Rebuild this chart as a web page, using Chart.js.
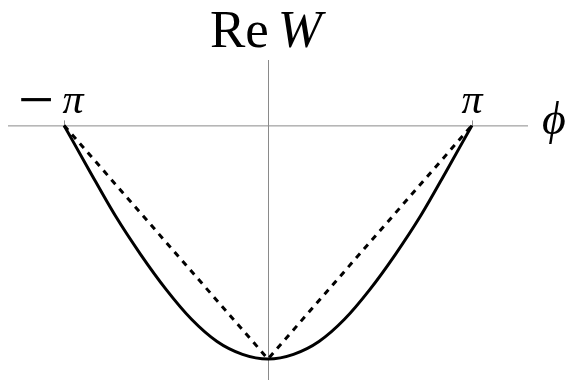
<!DOCTYPE html>
<html>
<head>
<meta charset="utf-8">
<script src="https://cdn.jsdelivr.net/npm/chart.js@4.4.1/dist/chart.umd.min.js"></script>
<style>
  body { margin: 0; background: #fff; }
  #wrap { width: 576px; height: 380px; }
</style>
</head>
<body>
<div id="wrap"><canvas id="reW" width="576" height="380"></canvas></div>
<script>
// phi in units of pi
let phi_ar = [-1, -0.875, -0.75, -0.625, -0.5, -0.375, -0.25, -0.125, 0,
              0.125, 0.25, 0.375, 0.5, 0.625, 0.75, 0.875, 1]
let rew_ar = [0, -0.195, -0.385, -0.552, -0.702, -0.83, -0.925, -0.98, -1,
              -0.98, -0.925, -0.83, -0.702, -0.552, -0.385, -0.195, 0]
// the dashed V
let vphi_ar = [-1, 0, 1]
let vrew_ar = [0, -1, 0]
// tick labels on the phi axis
let tick_ar = [-1, 1]
let tick_lbl = ['\u2212\u03c0', '\u03c0']

const toPts = (xs, ys) => xs.map((x, i) => ({x: x, y: ys[i]}))

//axes + labels drawn from the scales
const axesPlugin = {
    id: 'axesPlugin',
    beforeDatasetsDraw(chart) {
        const {ctx, chartArea, scales} = chart
        const x0 = scales.x.getPixelForValue(0)
        const y0 = scales.y.getPixelForValue(0)
        ctx.save()
        ctx.strokeStyle = '#8a8a8a'
        ctx.lineWidth = 1
        ctx.beginPath()
        ctx.moveTo(chartArea.left, y0 + 0.5)
        ctx.lineTo(chartArea.right, y0 + 0.5)
        ctx.moveTo(Math.round(x0) + 0.5, chartArea.top)
        ctx.lineTo(Math.round(x0) + 0.5, chartArea.bottom)
        tick_ar.forEach(t => {
            const px = Math.round(scales.x.getPixelForValue(t)) + 0.5
            ctx.moveTo(px, y0 - 5)
            ctx.lineTo(px, y0 + 0.5)
        })
        ctx.stroke()
        ctx.restore()
    },
    afterDraw(chart) {
        const {ctx, chartArea, scales} = chart
        const x0 = scales.x.getPixelForValue(0)
        const y0 = scales.y.getPixelForValue(0)
        ctx.save()
        ctx.fillStyle = '#000'
        ctx.textBaseline = 'alphabetic'

        // tick labels
        tick_ar.forEach((t, i) => {
            const px = scales.x.getPixelForValue(t)
            if (t < 0) {
                ctx.font = '64px "Liberation Serif"'
                ctx.textAlign = 'right'
                ctx.fillText('\u2212', px - 10, y0 - 4)
                ctx.font = 'italic 42px "Liberation Serif"'
                ctx.textAlign = 'center'
                ctx.fillText('\u03c0', px + 9, y0 - 12)
            } else {
                ctx.font = 'italic 42px "Liberation Serif"'
                ctx.textAlign = 'center'
                ctx.fillText(tick_lbl[i], px, y0 - 12)
            }
        })

        // phi axis title
        ctx.font = 'italic 46px "Liberation Serif", "DejaVu Serif"'
        ctx.textAlign = 'center'
        ctx.fillText('\u03d5', chartArea.right + 26, y0 + 9)

        // Re W
        ctx.font = '53px "Liberation Serif"'
        ctx.textAlign = 'left'
        const w1 = ctx.measureText('Re').width
        ctx.font = 'italic 53px "Liberation Serif"'
        const w2 = ctx.measureText('W').width
        const gap = 9
        let sx = x0 - (w1 + gap + w2) / 2 - 2
        ctx.font = '53px "Liberation Serif"'
        ctx.fillText('Re', sx, 47)
        ctx.font = 'italic 53px "Liberation Serif"'
        ctx.fillText('W', sx + w1 + gap, 47)
        ctx.restore()
    }
}

const ctx = document.getElementById('reW').getContext('2d')
const reWChart = new Chart(ctx, {
    type: 'line',
    data: {
        datasets: [{
            label: 'Re W',
            data: toPts(phi_ar, rew_ar),
            borderColor: '#000',
            borderWidth: 3,
            pointRadius: 0,
            fill: false,
            cubicInterpolationMode: 'monotone'
        }, {
            label: 'V',
            data: toPts(vphi_ar, vrew_ar),
            borderColor: '#000',
            borderWidth: 3,
            borderDash: [6, 6],
            pointRadius: 0,
            fill: false,
            tension: 0
        }]
    },
    options: {
        responsive: false,
        animation: false,
        layout: {
            padding: {left: 8, right: 48, top: 60, bottom: 0}
        },
        plugins: {
            legend: {display: false},
            tooltip: {enabled: false}
        },
        scales: {
            x: {type: 'linear', min: -1.275, max: 1.275, display: false},
            y: {type: 'linear', min: -1.09, max: 0.28, display: false}
        }
    },
    plugins: [axesPlugin]
})
</script>
</body>
</html>
